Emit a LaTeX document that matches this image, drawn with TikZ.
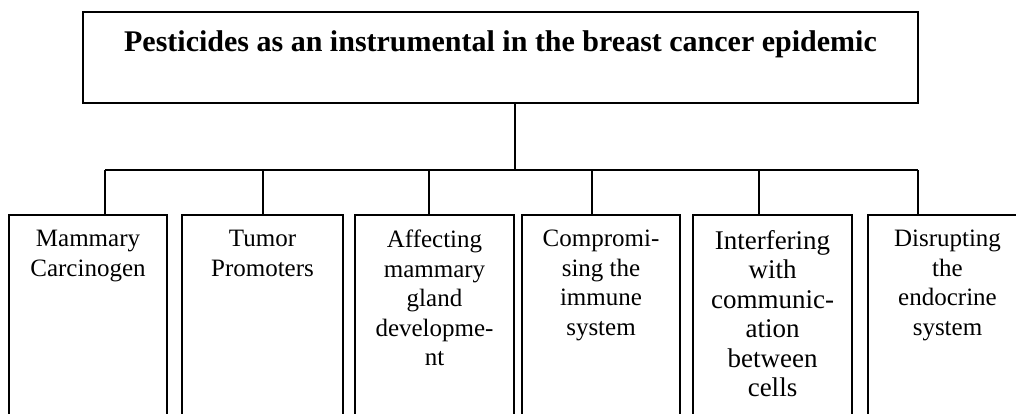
\documentclass[tikz,border=0pt]{standalone}
\usepackage{fontspec}
\setmainfont{Liberation Serif}
\usepackage{tikz}
\usetikzlibrary{positioning}

\begin{document}
\begin{tikzpicture}[x=1pt,y=-1pt]
	\tikzstyle{topbox} = [rectangle,draw,line width=2.8pt,inner sep=0pt,outer sep=0pt,minimum width=835pt,minimum height=91pt]
	\tikzstyle{leaf} = [rectangle,draw,line width=1.5pt,inner sep=0pt,outer sep=0pt,anchor=north,minimum height=240pt]
	\tikzstyle{leaftext} = [align=center,inner sep=0pt,font=\fontsize{25}{29.5}\selectfont]
	\tikzstyle{headtext} = [inner sep=0pt,font=\fontsize{30}{36}\selectfont\bfseries]
	\tikzstyle{wire} = [line width=1.3pt]
	\useasboundingbox (0,0) rectangle (1016,413);
	\clip (0,0) rectangle (1016,413);
	\node[topbox]	(top) at (500.5,57.5)	{};
	\node[headtext]	(head) [below=18pt of top.north]	{Pesticides as an instrumental in the breast cancer epidemic};
	\node[leaf,minimum width=158pt]	(b1) at (88,215)	{};
	\node[leaf,minimum width=161pt]	(b2) at (262.5,215)	{};
	\node[leaf,minimum width=159pt]	(b3) at (434.5,215)	{};
	\node[leaf,minimum width=158pt]	(b4) at (601,215)	{};
	\node[leaf,minimum width=159pt]	(b5) at (772.5,215)	{};
	\node[leaf,minimum width=159pt]	(b6) at (947.5,215)	{};
	\node[leaftext]	(t1) [below=15pt of b1.north]	{Mammary\\Carcinogen};
	\node[leaftext]	(t2) [below=15pt of b2.north]	{Tumor\\Promoters};
	\node[leaftext]	(t3) [below=15pt of b3.north]	{Affecting\\mammary\\gland\\developme-\\nt};
	\node[leaftext]	(t4) [below=15pt of b4.north]	{Compromi-\\sing the\\immune\\system};
	\node[leaftext,font=\fontsize{27}{29.5}\selectfont]	(t5) [below=15pt of b5.north]	{Interfering\\with\\communic-\\ation\\between\\cells};
	\node[leaftext]	(t6) [below=15pt of b6.north]	{Disrupting\\the\\endocrine\\system};
	\coordinate (hub) at (515,170);
	\coordinate (busL) at (105,170);
	\coordinate (busR) at (918,170);
	\draw[wire] (top.south -| hub) -- (hub);
	\draw[wire] (busL) -- (busR);
	\foreach \b/\x in {b1/105,b2/263,b3/429,b4/592,b5/759,b6/918}
		\draw[wire] (\x,170) coordinate (k\b) -- (k\b |- \b.north);
\end{tikzpicture}
\end{document}
